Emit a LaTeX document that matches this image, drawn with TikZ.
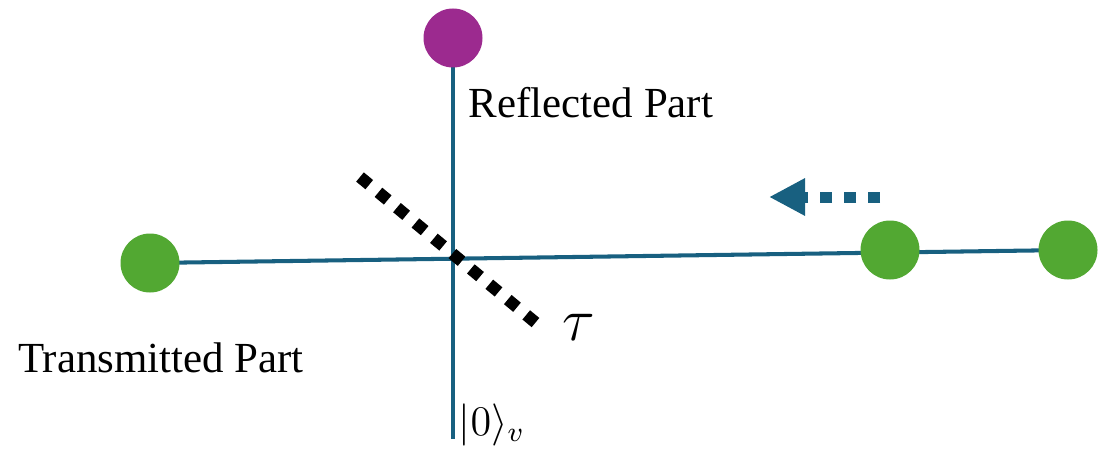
\documentclass[tikz,border=0pt]{standalone}
\usepackage{fontspec}
\setmainfont{Liberation Serif}
\usetikzlibrary{arrows.meta}
\definecolor{beamblue}{RGB}{24,96,128}
\definecolor{photongreen}{RGB}{82,168,50}
\definecolor{photonpurple}{RGB}{156,42,143}

\begin{document}
\begin{tikzpicture}[
    beam/.style={beamblue,line width=1.15pt},
    photon/.style={circle,inner sep=0pt,minimum size=0.59cm},
    lbl/.style={font=\fontsize{12.2}{14}\selectfont}
  ]
  \useasboundingbox (0,0) rectangle (11.09,4.53);
  % beam paths
  \coordinate (top) at (4.53,4.15);
  \coordinate (bottom) at (4.53,0.14);
  \coordinate (left) at (1.50,1.90);
  \coordinate (right) at (10.68,2.03);
  \draw[beam] (top) -- (bottom);
  \draw[beam] (left) -- (right);
  % photons
  \node[photon,fill=photonpurple] (refl) at (top) {};
  \node[photon,fill=photongreen] (trans) at (left) {};
  \node[photon,fill=photongreen] (inA) at (8.90,2.03) {};
  \node[photon,fill=photongreen] (inB) at (right) {};
  % beam splitter
  \coordinate (bsA) at (3.60,2.76);
  \coordinate (bsB) at (5.36,1.30);
  \draw[line width=0.12cm,dash pattern=on 0.12cm off 0.12cm] (bsA) -- (bsB);
  % direction of travel
  \coordinate (arrS) at (8.80,2.56);
  \coordinate (arrE) at (7.69,2.56);
  \draw[beamblue,line width=0.11cm,dash pattern=on 0.12cm off 0.12cm,
    -{Triangle[length=0.36cm,width=0.35cm]}] (arrS) -- (arrE);
  % labels
  \node[lbl] (reflLbl) at (5.91,3.50) {Reflected Part};
  \node[lbl] (transLbl) at (1.61,0.95) {Transmitted Part};
  \node[font=\fontsize{16}{18}\selectfont] (tau) at (5.79,1.26) {$\tau$};
  \node[font=\fontsize{12}{14}\selectfont] (vac) at (4.92,0.28) {$|0\rangle_v$};
\end{tikzpicture}
\end{document}
